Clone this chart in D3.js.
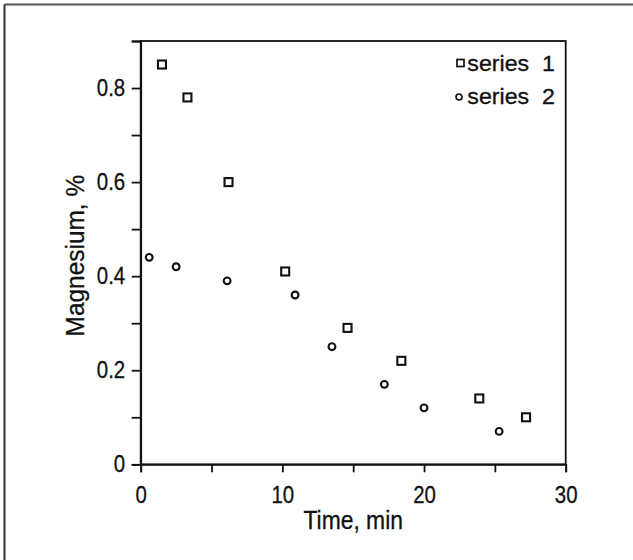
<!DOCTYPE html>
<html>
<head>
<meta charset="utf-8">
<script src="https://cdn.jsdelivr.net/npm/d3@7"></script>
<style>
  body { margin: 0; background: #fff; }
  svg { display: block; font-family: "Liberation Sans", Arial, sans-serif; }
  text { stroke: #111; stroke-width: 0.3px; }
</style>
</head>
<body>
<svg id="chart" width="633" height="560"></svg>
<script>
// ------------------------------------
// Data
// ------------------------------------
const series1Time = [1.5, 3.3, 6.2, 10.2, 14.6, 18.4, 23.9, 27.2];
const series1Mg   = [0.85, 0.78, 0.60, 0.41, 0.29, 0.22, 0.14, 0.10];

const series2Time = [0.6, 2.5, 6.1, 10.9, 13.5, 17.2, 20.0, 25.3];
const series2Mg   = [0.44, 0.42, 0.39, 0.36, 0.25, 0.17, 0.12, 0.07];

const xTicks = [0, 5, 10, 15, 20, 25, 30];
const xLabels = [0, 10, 20, 30];
const yTicks = [0, 0.1, 0.2, 0.3, 0.4, 0.5, 0.6, 0.7, 0.8, 0.9];
const yLabels = [0, 0.2, 0.4, 0.6, 0.8];

const legendNames = ["series  1", "series  2"];

const ink = "#111";
const svg = d3.select("#chart");

// outer frame (only top and left edges show)
svg.append("line").attr("x1", 4.5).attr("y1", 4.5).attr("x2", 633).attr("y2", 4.5)
  .attr("stroke", "#555").attr("stroke-width", 2);
svg.append("line").attr("x1", 4.5).attr("y1", 4.5).attr("x2", 4.5).attr("y2", 560)
  .attr("stroke", "#333").attr("stroke-width", 2);

const margin = { left: 140.7, top: 41, right: 565.7, bottom: 464.3 };

const x = d3.scaleLinear().domain([0, 30]).range([margin.left, margin.right]);
const y = d3.scaleLinear().domain([0, 0.9]).range([margin.bottom, margin.top]);

const g = svg.append("g");

// plot box
g.append("rect")
  .attr("x", x(0)).attr("y", y(0.9))
  .attr("width", x(30) - x(0)).attr("height", y(0) - y(0.9))
  .attr("fill", "none").attr("stroke", ink).attr("stroke-width", 1.8);

// x axis
const xAxis = g.append("g")
  .attr("transform", `translate(0,${y(0)})`)
  .call(d3.axisBottom(x).tickValues(xTicks).tickSize(8)
    .tickFormat(d => xLabels.includes(d) ? d : ""));

// y axis
const yAxis = g.append("g")
  .attr("transform", `translate(${x(0)},0)`)
  .call(d3.axisLeft(y).tickValues(yTicks).tickSize(9)
    .tickFormat(d => yLabels.some(v => Math.abs(v - d) < 1e-9) ? (d === 0 ? "0" : d3.format(".1f")(d)) : ""));

[xAxis, yAxis].forEach(a => {
  a.select(".domain").attr("stroke", ink).attr("stroke-width", 1.8);
  a.selectAll(".tick line").attr("stroke", ink).attr("stroke-width", 1.8);
  a.selectAll(".tick text")
    .attr("fill", ink)
    .attr("font-size", 24)
    .attr("font-family", "Liberation Sans, Arial, sans-serif");
});

// narrow the tick labels a little, like the original face
xAxis.selectAll(".tick text")
  .attr("y", 0).attr("dy", 0)
  .attr("transform", "translate(0,38.7) scale(0.85,1)");
yAxis.selectAll(".tick text")
  .attr("x", 0)
  .attr("transform", "translate(-15.5,0) scale(0.85,1)");

// axis titles
g.append("text")
  .attr("transform", `translate(${(x(0) + x(30)) / 2},529) scale(0.88,1)`)
  .attr("text-anchor", "middle")
  .attr("font-size", 26)
  .attr("fill", ink)
  .text("Time, min");

g.append("text")
  .attr("transform", `translate(84,${(y(0) + y(0.9)) / 2 + 3}) rotate(-90) scale(0.94,1)`)
  .attr("text-anchor", "middle")
  .attr("font-size", 26)
  .attr("fill", ink)
  .text("Magnesium, %");

// points
const pts1 = series1Time.map((t, i) => ({ t, v: series1Mg[i] }));
const pts2 = series2Time.map((t, i) => ({ t, v: series2Mg[i] }));

const sq = 8;
g.selectAll(".s1")
  .data(pts1)
  .join("rect")
  .attr("class", "s1")
  .attr("x", d => x(d.t) - sq / 2)
  .attr("y", d => y(d.v) - sq / 2)
  .attr("width", sq).attr("height", sq)
  .attr("fill", "#fff").attr("stroke", ink).attr("stroke-width", 2.1);

g.selectAll(".s2")
  .data(pts2)
  .join("circle")
  .attr("class", "s2")
  .attr("cx", d => x(d.t))
  .attr("cy", d => y(d.v))
  .attr("r", 3.4)
  .attr("fill", "#fff").attr("stroke", ink).attr("stroke-width", 2.1);

// legend
const legend = g.append("g").attr("transform", "translate(461,0)");
legend.append("rect")
  .attr("x", -4).attr("y", 59.5).attr("width", 7).attr("height", 7)
  .attr("fill", "#fff").attr("stroke", ink).attr("stroke-width", 1.7);
legend.append("circle")
  .attr("cx", -2).attr("cy", 97).attr("r", 3)
  .attr("fill", "#fff").attr("stroke", ink).attr("stroke-width", 1.7);
legendNames.forEach((name, i) => {
  legend.append("text")
    .attr("transform", `translate(94,${71 + i * 33}) scale(1.08,1)`)
    .attr("text-anchor", "end")
    .attr("font-size", 21.5)
    .attr("fill", ink)
    .style("white-space", "pre")
    .text(name);
});
</script>
</body>
</html>
